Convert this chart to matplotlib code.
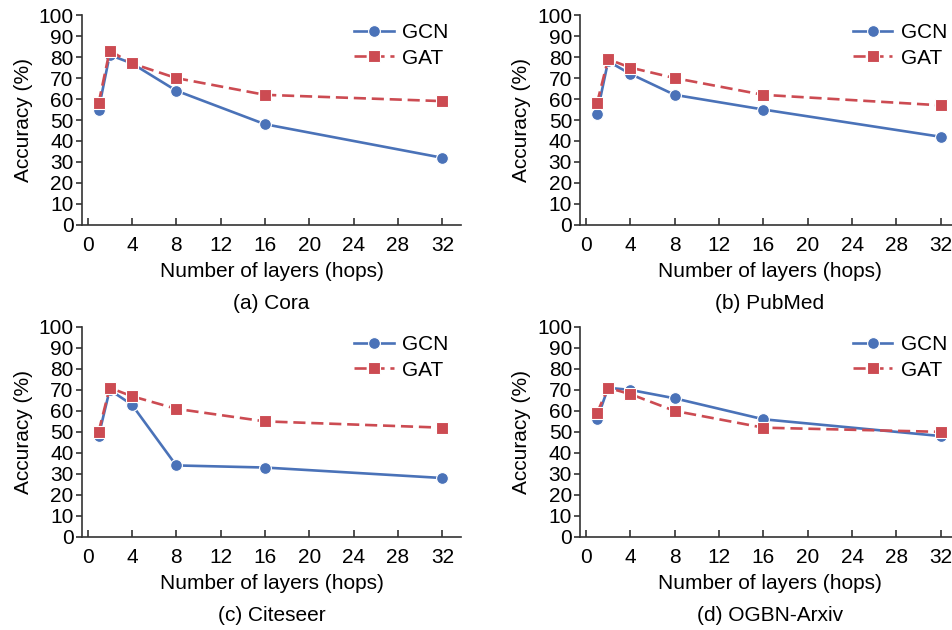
import matplotlib
matplotlib.use("Agg")
import matplotlib.pyplot as plt

plt.rcParams['font.family'] = ['Liberation Sans', 'DejaVu Sans']

# layers (hops)
layers = [1, 2, 4, 8, 16, 32]

# accuracy (%)
cora_gcn = [55, 81, 77, 64, 48, 32]
cora_gat = [58, 83, 77, 70, 62, 59]
pubmed_gcn = [53, 78, 72, 62, 55, 42]
pubmed_gat = [58, 79, 75, 70, 62, 57]
citeseer_gcn = [48, 70, 63, 34, 33, 28]
citeseer_gat = [50, 71, 67, 61, 55, 52]
arxiv_gcn = [56, 71, 70, 66, 56, 48]
arxiv_gat = [59, 71, 68, 60, 52, 50]

captions = ["(a) Cora", "(b) PubMed", "(c) Citeseer", "(d) OGBN-Arxiv"]
panels = [(cora_gcn, cora_gat), (pubmed_gcn, pubmed_gat),
          (citeseer_gcn, citeseer_gat), (arxiv_gcn, arxiv_gat)]

BLUE = "#4a72b8"
RED = "#cc4b52"
FS = 15

fig = plt.figure(figsize=(9.53, 6.30), dpi=100)

# axes boxes in figure fractions: left, bottom, width, height
boxes = [(0.086, 0.643, 0.398, 0.333),
         (0.609, 0.643, 0.398, 0.333),
         (0.086, 0.148, 0.398, 0.333),
         (0.609, 0.148, 0.398, 0.333)]

for box, (gcn, gat), cap in zip(boxes, panels, captions):
    ax = fig.add_axes(box)
    ax.plot(layers, gcn, color=BLUE, lw=1.9, marker='o', ms=8.5,
            mec='white', mew=0.8, label='GCN', zorder=3)
    ax.plot(layers, gat, color=RED, lw=1.9, ls=(0, (4.6, 2.2)), marker='s', ms=8,
            mec='white', mew=0.8, label='GAT', zorder=4)
    ax.set_xlim(-0.5, 33.7)
    ax.set_ylim(0, 100)
    ax.set_xticks(range(0, 33, 4))
    ax.set_yticks(range(0, 101, 10))
    for s in ('top', 'right'):
        ax.spines[s].set_visible(False)
    for s in ('left', 'bottom'):
        ax.spines[s].set_color('#333333')
        ax.spines[s].set_linewidth(1.2)
    ax.tick_params(axis='x', direction='in', length=5, width=1.2, color='#333333',
                   labelsize=FS, pad=8)
    ax.tick_params(axis='y', direction='out', length=4, width=1.2, color='#333333',
                   labelsize=FS, pad=2)
    ax.set_ylabel("Accuracy (%)", fontsize=FS, labelpad=4)
    ax.set_xlabel("Number of layers (hops)", fontsize=FS, labelpad=5)
    ax.text(0.5, -0.375, cap, transform=ax.transAxes, ha='center', va='center',
            fontsize=FS)
    ax.legend(loc='upper right', bbox_to_anchor=(1.0, 1.02), frameon=False,
              fontsize=FS, handlelength=1.9, handletextpad=0.4,
              labelspacing=0.3, borderaxespad=0.2)

fig.savefig("out.png", dpi=100)
